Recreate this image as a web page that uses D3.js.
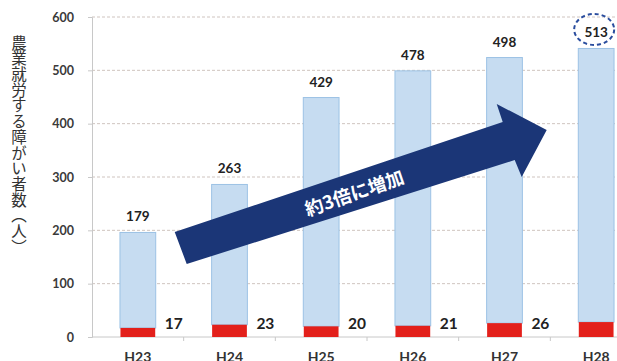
<!DOCTYPE html>
<html><head><meta charset="utf-8">
<script src="https://cdn.jsdelivr.net/npm/d3@7"></script>
<style>
html,body{margin:0;padding:0;background:#fff;}
svg{display:block;}
</style></head>
<body>
<svg id="chart" width="617" height="361"></svg>
<script>
const categories = ["H23","H24","H25","H26","H27","H28"];
const totalValues = [179, 263, 429, 478, 498, 513];
const redValues = [17, 23, 20, 21, 26, 28];
const yTicks = [0, 100, 200, 300, 400, 500, 600];
const yTitle = "農業就労する障がい者数（人）";
const arrowText = "約3倍に増加";

const W = 617;
const svg = d3.select("#chart");
const x = d3.scaleBand().domain(categories).range([92, 642]).paddingInner(0.61).paddingOuter(0.305);
const y = d3.scaleLinear().domain([0, 600]).range([337, 17]);

// gridlines
svg.append("g").selectAll("line").data(yTicks.filter(d => d > 0)).join("line")
  .attr("x1", 92).attr("x2", W).attr("y1", d => y(d)).attr("y2", d => y(d))
  .attr("stroke", "#cfc4bf").attr("stroke-width", 1).attr("stroke-dasharray", "3,2");

// y axis
const yAxis = d3.axisLeft(y).tickValues(yTicks).tickSize(4).tickPadding(14);
const gy = svg.append("g").attr("transform", "translate(92,0)").call(yAxis);
gy.select(".domain").attr("stroke", "#c8c8c8");
gy.selectAll(".tick line").attr("stroke", "#c8c8c8");
gy.selectAll(".tick text").attr("font-family", "Lato, 'Liberation Sans', sans-serif")
  .attr("font-weight", "bold").attr("font-size", 12.5).attr("fill", "#3a3a3a");

// x axis
const bounds = categories.map((c, i) => x(c) - x.step() * x.paddingInner() / 2);
svg.append("line").attr("x1", 92).attr("x2", W).attr("y1", y(0)).attr("y2", y(0)).attr("stroke", "#c8c8c8");
svg.append("g").selectAll("line").data(bounds.slice(1)).join("line")
  .attr("x1", d => d).attr("x2", d => d).attr("y1", y(0)).attr("y2", y(0) + 4).attr("stroke", "#c8c8c8");
svg.append("g").selectAll("text").data(categories).join("text")
  .attr("x", d => x(d) + x.bandwidth() / 2).attr("y", 362)
  .attr("text-anchor", "middle").attr("font-family", "Lato, 'Liberation Sans', sans-serif")
  .attr("font-weight", "bold").attr("font-size", 14).attr("fill", "#333").text(d => d);

// bars: blue segment stacked on red
const data = categories.map((c, i) => ({c, blue: totalValues[i], red: redValues[i]}));
svg.append("g").selectAll("rect").data(data).join("rect")
  .attr("x", d => x(d.c)).attr("width", x.bandwidth())
  .attr("y", d => y(d.red + d.blue)).attr("height", d => y(d.red) - y(d.red + d.blue))
  .attr("fill", "#c6dcf1").attr("stroke", "#9cc2e5").attr("stroke-width", 1);
svg.append("g").selectAll("rect").data(data).join("rect")
  .attr("x", d => x(d.c) + 0.5).attr("width", x.bandwidth() - 1)
  .attr("y", d => y(d.red)).attr("height", d => y(0) - y(d.red))
  .attr("fill", "#e3201b");

// top labels
svg.append("g").selectAll("text").data(data).join("text")
  .attr("x", d => x(d.c) + x.bandwidth() / 2).attr("y", d => y(d.red + d.blue) - 11)
  .attr("text-anchor", "middle").attr("font-family", "Lato, 'Liberation Sans', sans-serif")
  .attr("font-weight", "bold").attr("font-size", 13.5).attr("fill", "#222").text(d => d.blue);

// red labels (only those that fall inside the picture)
svg.append("g").selectAll("text").data(data.filter(d => x(d.c) + x.bandwidth() + 9 < W - 10)).join("text")
  .attr("x", d => x(d.c) + x.bandwidth() + 9).attr("y", 329)
  .attr("font-family", "Lato, 'Liberation Sans', sans-serif")
  .attr("font-weight", "bold").attr("font-size", 15.5).attr("fill", "#222").text(d => d.red);

// dashed ellipse around last label
const last = data[data.length - 1];
svg.append("ellipse")
  .attr("cx", x(last.c) + x.bandwidth() / 2 - 2).attr("cy", y(last.red + last.blue) - 19)
  .attr("rx", 20).attr("ry", 15.5)
  .attr("fill", "none").attr("stroke", "#2a4d9e").attr("stroke-width", 2).attr("stroke-dasharray", "4,3");

// arrow annotation
const ax0 = x(categories[0]) + x.bandwidth() + 19;
const arrowPts = [
  [ax0, 232], [ax0 + 328, 122], [ax0 + 322, 104], [ax0 + 372, 130],
  [ax0 + 347, 177], [ax0 + 340, 160], [ax0 + 12, 264]
];
svg.append("path").attr("d", "M" + arrowPts.map(p => p.join(",")).join("L") + "Z")
  .attr("fill", "#1b3677");
svg.append("text")
  .attr("transform", "translate(354,192) rotate(-19)")
  .attr("text-anchor", "middle").attr("dominant-baseline", "central")
  .attr("font-family", "'Noto Sans CJK JP', sans-serif").attr("font-weight", "bold")
  .attr("font-size", 18.5).attr("fill", "#fff").text(arrowText);

// y title vertical
svg.append("text")
  .attr("x", 19).attr("y", 35)
  .style("writing-mode", "vertical-rl").style("text-orientation", "upright")
  .attr("font-family", "'Noto Sans CJK JP', sans-serif").attr("font-size", 15.5)
  .attr("letter-spacing", 0.2).attr("fill", "#333").text(yTitle);
</script>
</body></html>
